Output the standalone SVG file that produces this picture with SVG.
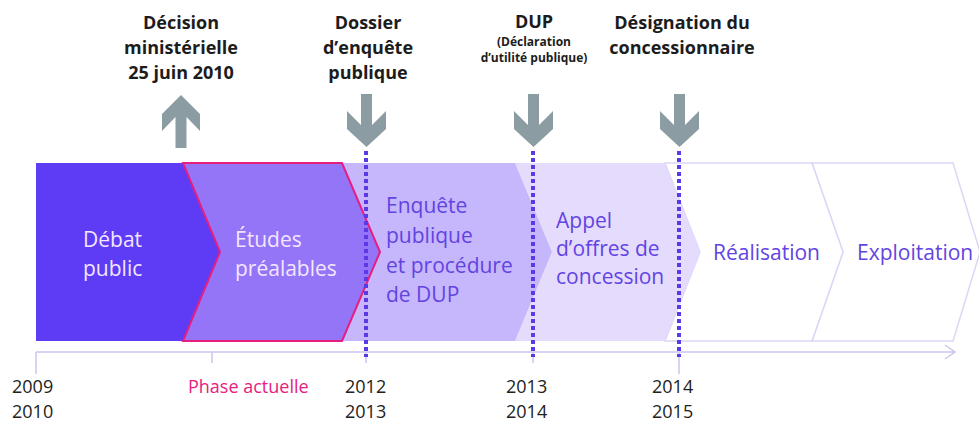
<svg xmlns="http://www.w3.org/2000/svg" width="979" height="424" viewBox="0 0 979 424">
<defs>
<style>
.top{font-family:"Open Sans","Liberation Sans",sans-serif;font-weight:bold;font-size:18px;fill:#1c1c1c;text-anchor:middle}
.sub{font-family:"Open Sans","Liberation Sans",sans-serif;font-weight:bold;font-size:12px;fill:#1c1c1c;text-anchor:middle}
.lt{font-family:"Open Sans","Liberation Sans",sans-serif;font-size:21px;fill:#f3e6ff}
.dk{font-family:"Open Sans","Liberation Sans",sans-serif;font-size:21px;fill:#6244e2}
.yr{font-family:"Open Sans","Liberation Sans",sans-serif;font-size:18px;fill:#222}
.ph{font-family:"Open Sans","Liberation Sans",sans-serif;font-size:18px;fill:#e6207e}
.gar{fill:#8b9ca3}
.dot{stroke:#5b3ae6;stroke-width:4;stroke-dasharray:4 3;fill:none}
.tick{stroke:#cdc5ef;stroke-width:1.5;fill:none}
.out{fill:#fff;stroke:#ddd6f7;stroke-width:1.5}
</style>
</defs>
<rect width="979" height="424" fill="#fff"/>

<g id="seg6-exploitation">
<polygon class="out" points="812,163 953,163 980,252 953,341 812,341 843,252"/>
<text class="dk" x="857" y="260">Exploitation</text>
</g>
<g id="seg5-realisation">
<polygon class="out" points="665,163 812,163 843,252 812,341 665,341 700,252"/>
<text class="dk" x="713" y="260">Réalisation</text>
</g>
<g id="seg4-appel">
<polygon fill="#e5dcfd" points="515,163 665,163 700,252 665,341 515,341 552,252"/>
<text class="dk" x="556" y="228">Appel</text>
<text class="dk" x="556" y="256">d’offres de</text>
<text class="dk" x="556" y="284">concession</text>
</g>
<g id="seg3-enquete">
<polygon fill="#c6b6fb" points="342,163 515,163 552,252 515,341 342,341 380,252"/>
<text class="dk" x="386" y="213">Enquête</text>
<text class="dk" x="386" y="243">publique</text>
<text class="dk" x="386" y="273">et procédure</text>
<text class="dk" x="386" y="302">de DUP</text>
</g>
<g id="seg1-debat">
<polygon fill="#5e3cf6" points="36,163 183,163 220,252 183,341 36,341"/>
<text class="lt" x="83" y="247">Débat</text>
<text class="lt" x="83" y="276">public</text>
</g>
<g id="seg2-etudes">
<polygon fill="#9474f7" stroke="#e61e82" stroke-width="2" stroke-linejoin="miter" points="183,163 342,163 380,252 342,341 183,341 220,252"/>
<text class="lt" x="235" y="247">Études</text>
<text class="lt" x="235" y="276">préalables</text>
</g>

<g id="label-decision">
<text class="top" x="181" y="29">Décision</text>
<text class="top" x="181" y="54">ministérielle</text>
<text class="top" x="181" y="79">25 juin 2010</text>
</g>
<g id="label-dossier">
<text class="top" x="368" y="29">Dossier</text>
<text class="top" x="368" y="54">d’enquête</text>
<text class="top" x="368" y="79">publique</text>
</g>
<g id="label-dup">
<text class="top" x="534" y="28">DUP</text>
<text class="sub" x="534" y="46">(Déclaration</text>
<text class="sub" x="534" y="62">d’utilité publique)</text>
</g>
<g id="label-designation">
<text class="top" x="682" y="29">Désignation du</text>
<text class="top" x="682" y="54">concessionnaire</text>
</g>

<g id="timeline-labels">
<text class="yr" x="12" y="393">2009</text>
<text class="yr" x="12" y="418">2010</text>
<text class="ph" x="188" y="393">Phase actuelle</text>
<text class="yr" x="345" y="393">2012</text>
<text class="yr" x="345" y="418">2013</text>
<text class="yr" x="506" y="393">2013</text>
<text class="yr" x="506" y="418">2014</text>
<text class="yr" x="652" y="393">2014</text>
<text class="yr" x="652" y="418">2015</text>
</g>

<g id="connectors">
<path class="tick" d="M36,352 H955 M945,345 L955,352 L945,359 M36,352 V374 M212,352 V363 M366,352 V363 M533,352 V363 M679,352 V374"/>
<line class="dot" x1="366" y1="151" x2="366" y2="357"/>
<line class="dot" x1="533" y1="151" x2="533" y2="357"/>
<line class="dot" x1="679" y1="151" x2="679" y2="357"/>
<polygon class="gar" points="181,95 200,114 200,131 186.5,117 186.5,148 175.5,148 175.5,117 162,131 162,114"/>
<polygon class="gar" points="361,94 372,94 372,125 386,111 386,129 366.5,147 347,129 347,111 361,125"/>
<polygon class="gar" points="528,94 539,94 539,125 553,111 553,129 533.5,147 514,129 514,111 528,125"/>
<polygon class="gar" points="674,94 685,94 685,125 699,111 699,129 679.5,147 660,129 660,111 674,125"/>
</g>
</svg>
